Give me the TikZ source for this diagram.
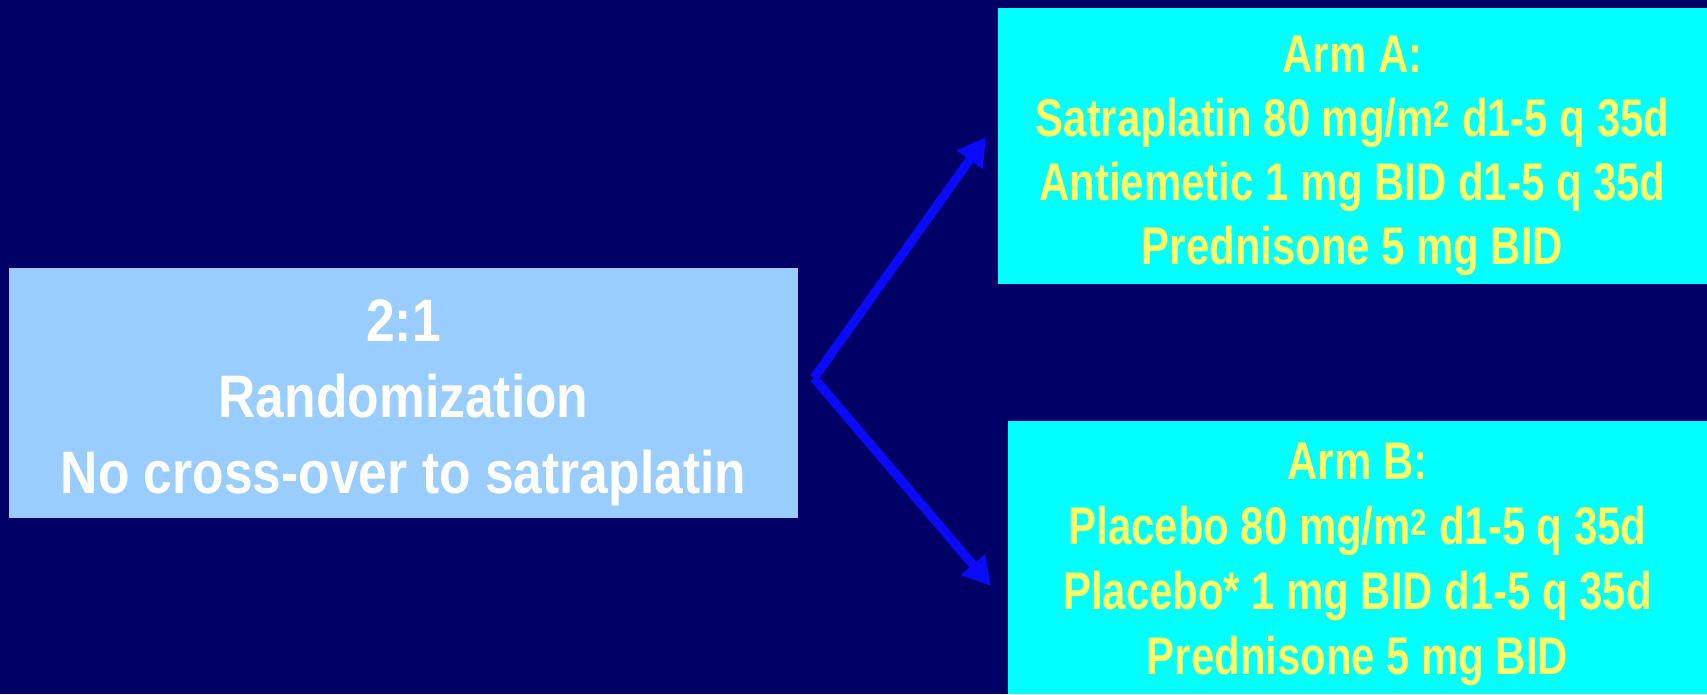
\documentclass[tikz,border=0pt]{standalone}
\usepackage{fontspec}
\setmainfont{Liberation Sans}
\newfontfamily\randfont{Liberation Sans Bold}[FakeStretch=0.86]
\newfontfamily\armfont{Liberation Sans Bold}[FakeStretch=0.79]
\usetikzlibrary{arrows.meta,positioning,shapes}
\definecolor{slidebg}{RGB}{0,0,102}
\definecolor{randfill}{RGB}{153,204,255}
\definecolor{armfill}{RGB}{0,255,255}
\definecolor{armtext}{RGB}{255,255,102}
\definecolor{arrowblue}{RGB}{10,10,255}

\begin{document}
\begin{tikzpicture}[x = 1pt, y = -1pt,
  armbox/.style={fill=armfill, inner sep=0pt},
  armlines/.style={text=armtext, align=center, inner sep=0pt,
    font=\armfont\fontsize{53}{64}\selectfont},
  armarrow/.style={draw=arrowblue, line width=9pt,
    -{Triangle[length=28pt, width=30pt]}}]
% Slide background
\fill[slidebg] (0,0) rectangle (1707,694);
\useasboundingbox (0,0) rectangle (1707,694);
% Randomization box
\node[fill=randfill, inner sep=0pt, minimum width=789pt, minimum height=250pt]
  (rand) at (403.5,393) {};
\node[text=white, align=center, inner sep=0pt,
  font=\randfont\fontsize{60}{76}\selectfont] (randtext) at ([yshift=-10pt]rand.center)
  {2:1\\Randomization\\No cross-over to satraplatin};
% Arm A
\node[armbox, minimum width=709pt, minimum height=276pt] (armA) at (1352.5,146) {};
\node[armlines] (armAtext) at ([yshift=-10pt]armA.center)
  {Arm A:\\Satraplatin 80 mg/m\textsuperscript{2} d1-5 q 35d\\Antiemetic 1 mg BID d1-5 q 35d\\Prednisone 5 mg BID};
% Arm B
\node[armbox, minimum width=699pt, minimum height=273pt] (armB) at (1357.5,557.5) {};
\node[armlines, font=\armfont\fontsize{53}{65}\selectfont] (armBtext) at ([yshift=-7pt]armB.center)
  {Arm B:\\Placebo 80 mg/m\textsuperscript{2} d1-5 q 35d\\Placebo* 1 mg BID d1-5 q 35d\\Prednisone 5 mg BID};
% Split arrows
\coordinate (split) at (814,378);
\coordinate (tipA) at (986,137);
\coordinate (tipB) at (991,586);
\draw[armarrow] (split) -- (tipA);
\draw[armarrow] (split) -- (tipB);
\end{tikzpicture}
\end{document}
